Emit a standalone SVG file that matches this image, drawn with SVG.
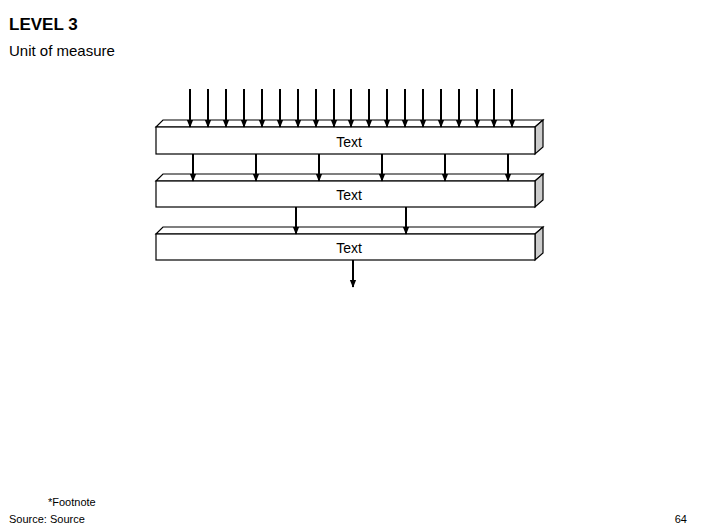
<svg xmlns="http://www.w3.org/2000/svg" width="706" height="529" viewBox="0 0 706 529">
<defs>
<style>
.f{fill:#fff;stroke:#000;stroke-width:1.2}
.s{fill:#ccc;stroke:#000;stroke-width:1.2}
.t{font-family:"Liberation Sans",Arial,sans-serif;font-size:14px;fill:#000}
.c line{stroke:#000;stroke-width:2;marker-end:url(#a)}
</style>
<marker id="a" viewBox="0 0 10 10" refX="9" refY="5" markerWidth="4" markerHeight="4" orient="auto"><path d="M0,1L10,5L0,9z" fill="#000"/></marker>
</defs>
<rect width="706" height="529" fill="#fff"/>
<text x="9" y="30" style="font-family:'Liberation Sans',Arial,sans-serif;font-size:17px;font-weight:bold">LEVEL 3</text>
<text x="9" y="56" class="t" style="font-size:15px">Unit of measure</text>
<g id="box1"><path class="f" d="M156,127L163,120H543L535,127Z"/><path class="s" d="M535,127L543,120V147L535,154Z"/><rect class="f" x="156" y="127" width="379" height="27"/><text x="349" y="147" class="t" text-anchor="middle">Text</text></g>
<g id="box2"><path class="f" d="M156,181L163,174H543L535,181Z"/><path class="s" d="M535,181L543,174V200L535,207Z"/><rect class="f" x="156" y="181" width="379" height="26"/><text x="349" y="200" class="t" text-anchor="middle">Text</text></g>
<g id="box3"><path class="f" d="M156,234L163,227H543L535,234Z"/><path class="s" d="M535,234L543,227V253L535,260Z"/><rect class="f" x="156" y="234" width="379" height="26"/><text x="349" y="253" class="t" text-anchor="middle">Text</text></g>
<g class="c" id="connectors">
<line x1="190" y1="89" x2="190" y2="127"/><line x1="208" y1="89" x2="208" y2="127"/><line x1="226" y1="89" x2="226" y2="127"/><line x1="244" y1="89" x2="244" y2="127"/><line x1="262" y1="89" x2="262" y2="127"/><line x1="280" y1="89" x2="280" y2="127"/><line x1="298" y1="89" x2="298" y2="127"/><line x1="316" y1="89" x2="316" y2="127"/><line x1="334" y1="89" x2="334" y2="127"/><line x1="351" y1="89" x2="351" y2="127"/><line x1="369" y1="89" x2="369" y2="127"/><line x1="387" y1="89" x2="387" y2="127"/><line x1="405" y1="89" x2="405" y2="127"/><line x1="423" y1="89" x2="423" y2="127"/><line x1="441" y1="89" x2="441" y2="127"/><line x1="459" y1="89" x2="459" y2="127"/><line x1="477" y1="89" x2="477" y2="127"/><line x1="494" y1="89" x2="494" y2="127"/><line x1="512" y1="89" x2="512" y2="127"/>
<line x1="193" y1="154" x2="193" y2="181"/><line x1="256" y1="154" x2="256" y2="181"/><line x1="319" y1="154" x2="319" y2="181"/><line x1="382" y1="154" x2="382" y2="181"/><line x1="445" y1="154" x2="445" y2="181"/><line x1="508" y1="154" x2="508" y2="181"/>
<line x1="296" y1="207" x2="296" y2="234"/><line x1="406" y1="207" x2="406" y2="234"/>
<line x1="353" y1="260" x2="353" y2="287"/>
</g>
<text x="48" y="506" class="t" style="font-size:11px">*Footnote</text>
<text x="9" y="523" class="t" style="font-size:11px">Source: Source</text>
<text x="687" y="523" class="t" style="font-size:11px" text-anchor="end">64</text>
</svg>
